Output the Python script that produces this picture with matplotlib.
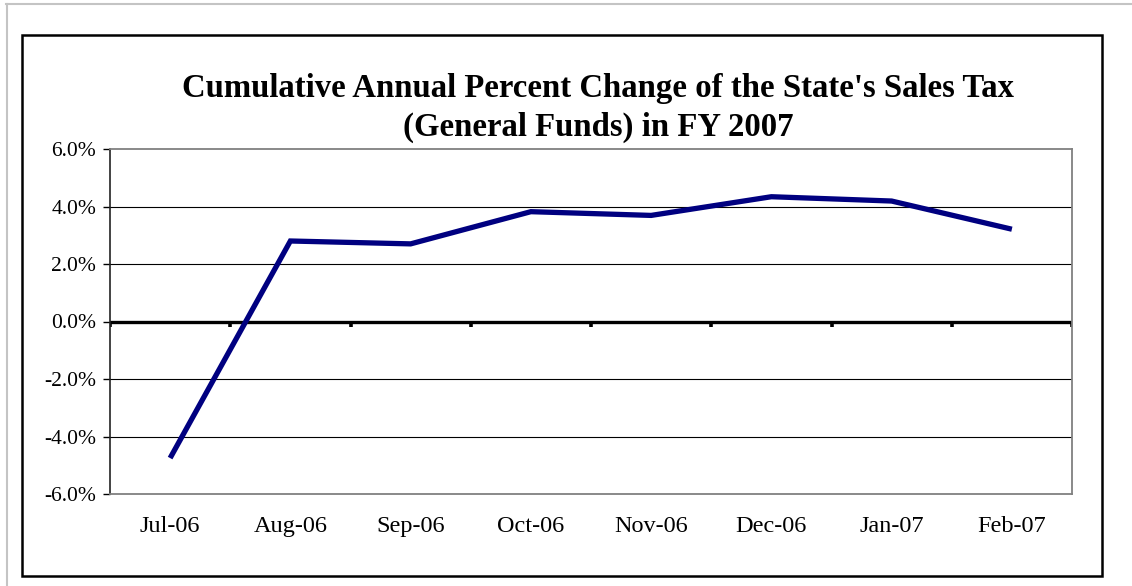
import matplotlib
matplotlib.use("Agg")
import matplotlib.pyplot as plt
import numpy as np
from matplotlib.patches import Rectangle
from matplotlib.lines import Line2D

months = ["Jul-06", "Aug-06", "Sep-06", "Oct-06", "Nov-06", "Dec-06", "Jan-07", "Feb-07"]
pct_change = [-4.75, 2.8, 2.7, 3.82, 3.69, 4.34, 4.19, 3.21]
y_ticks = [-6.0, -4.0, -2.0, 0.0, 2.0, 4.0, 6.0]
title = "Cumulative Annual Percent Change of the State's Sales Tax\n(General Funds) in FY 2007"

W, H, DPI = 1132, 586, 100
fig = plt.figure(figsize=(W / DPI, H / DPI), dpi=DPI)
fig.patch.set_facecolor("white")

def fx(px):
    return px / W

def fy(py):
    return 1 - py / H

# page edge lines and chart frame
fig.add_artist(Line2D([fx(6), 1.0], [fy(4), fy(4)], color="#c4c4c4", lw=1.5))
fig.add_artist(Line2D([fx(6.5), fx(6.5)], [fy(4), 0.0], color="#c4c4c4", lw=1.5))
fig.add_artist(Rectangle((fx(22), fy(576)), fx(1102) - fx(22), fy(35) - fy(576),
                         fill=False, edgecolor="black", lw=1.8))

ax = fig.add_axes([fx(110), fy(494), fx(1072) - fx(110), fy(149) - fy(494)])
x = np.arange(len(months))

ax.set_xlim(-0.5, len(months) - 0.5)
ax.set_ylim(y_ticks[0], y_ticks[-1])

# horizontal gridlines
for v in y_ticks[1:-1]:
    if v != 0:
        ax.axhline(v, color="black", lw=0.8, zorder=1)

# category axis along zero with boundary ticks
ax.axhline(0, color="black", lw=2.4, zorder=2)
ax.vlines(np.arange(len(months) + 1) - 0.5, -0.2, 0, color="black", lw=2.6, zorder=2)

ax.plot(x, pct_change, color="#000080", lw=3.8, solid_capstyle="butt",
        solid_joinstyle="miter", zorder=3)

for side in ["top", "right", "bottom"]:
    ax.spines[side].set_color("#808080")
    ax.spines[side].set_linewidth(1.3)
ax.spines["left"].set_color("#222222")
ax.spines["left"].set_linewidth(1.2)

serif = ["Liberation Serif", "DejaVu Serif"]
ax.set_yticks(y_ticks)
ax.set_yticklabels([f"{v:.1f}%" for v in y_ticks], family=serif, fontsize=15.5)
ax.tick_params(axis="y", direction="out", length=5, width=1, color="black", pad=5)
ax.set_xticks(x)
ax.set_xticklabels(months, family=serif, fontsize=17.5)
ax.tick_params(axis="x", length=0, pad=16)

fig.text(fx(598), fy(108), title, ha="center", va="center", family=serif,
         fontweight="bold", fontsize=23.6, linespacing=1.3)

fig.savefig("out.png", dpi=DPI, facecolor="white")
